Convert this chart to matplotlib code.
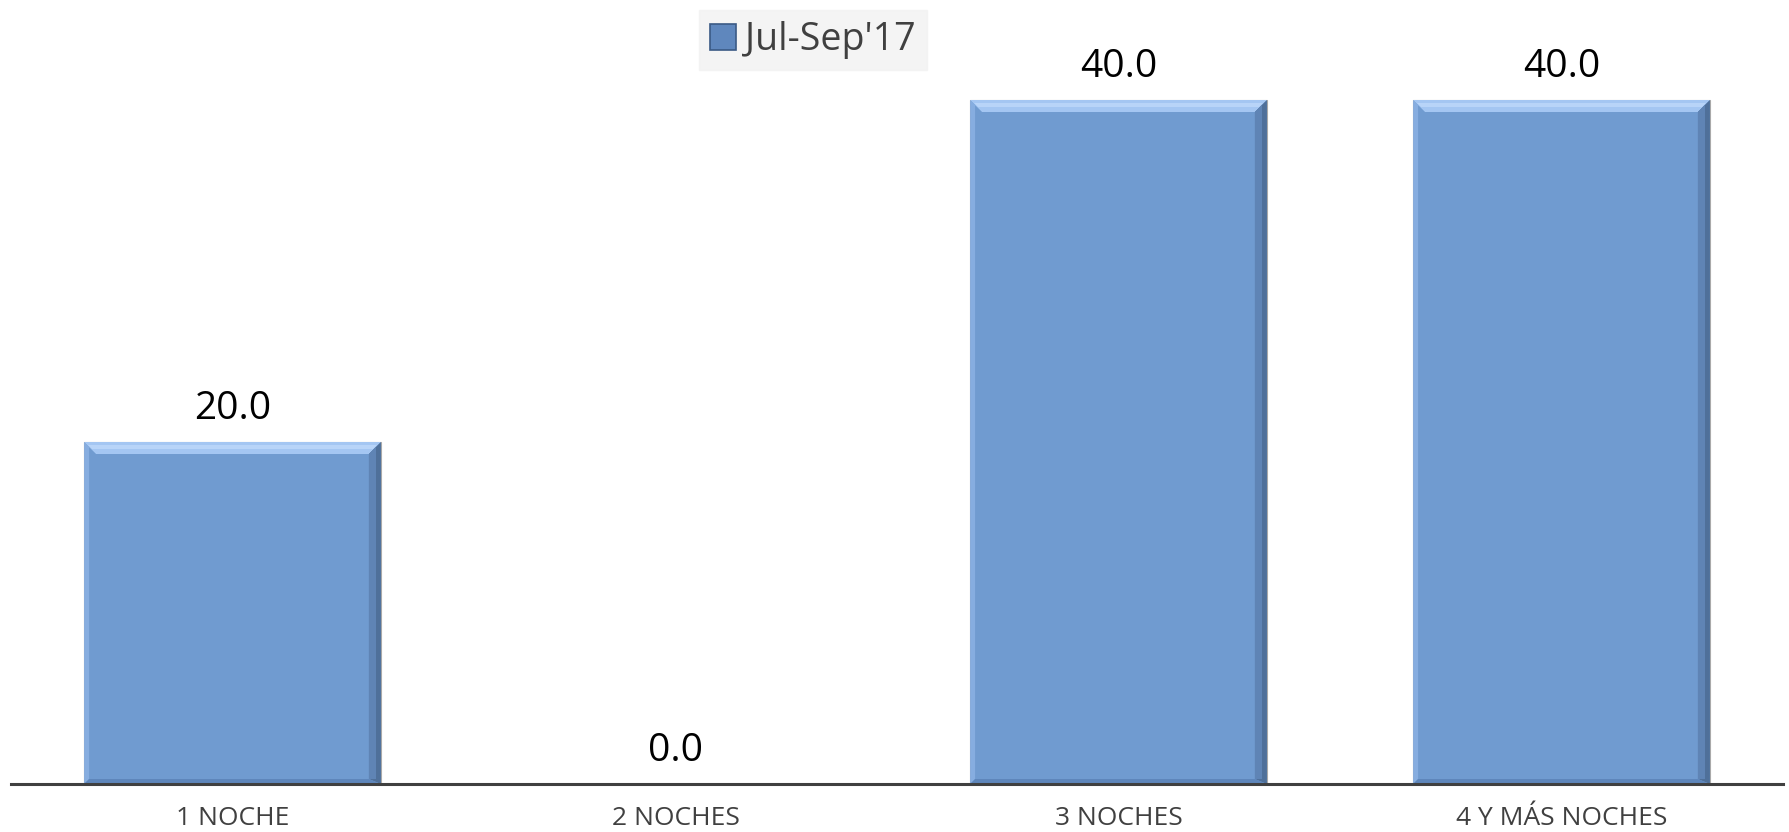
import matplotlib.pyplot as plt
from matplotlib.patches import Polygon, Patch

# ======================
# Data
# ======================
categories = ["1 NOCHE", "2 NOCHES", "3 NOCHES", "4 Y MÁS NOCHES"]
values = [20.0, 0.0, 40.0, 40.0]
series_name = "Jul-Sep'17"

plt.rcParams["font.family"] = ["Open Sans", "DejaVu Sans"]

# ======================
# Figure
# ======================
fig = plt.figure(figsize=(17.89, 8.32), dpi=100)
ax = fig.add_axes([11 / 1789, 48 / 832, 1772 / 1789, 769.5 / 832])

bar_color = "#709bd0"
bars = ax.bar(range(len(categories)), values, width=0.67, color=bar_color,
              edgecolor="#a9a9a9", linewidth=0.8, zorder=2)

ax.set_xlim(-0.5, len(categories) - 0.5)
ax.set_ylim(0, 45)

# bevel look on each bar
px_x = 0.67 / 297
px_y = 40 / 684
for b in bars:
    h = b.get_height()
    if h <= 0:
        continue
    x0, x1 = b.get_x(), b.get_x() + b.get_width()
    tx, ty = 12 * px_x, 12 * px_y
    # top light strip
    ax.add_patch(Polygon([(x0, h), (x1, h), (x1 - tx, h - ty), (x0 + tx, h - ty)],
                         closed=True, color="#a4c6f2", lw=0, zorder=3))
    ax.add_patch(Polygon([(x0 + 4 * px_x, h - 3 * px_y), (x1 - 4 * px_x, h - 3 * px_y),
                          (x1 - 8 * px_x, h - 7 * px_y), (x0 + 8 * px_x, h - 7 * px_y)],
                         closed=True, color="#b8d4f8", lw=0, zorder=3))
    # right dark strip
    ax.add_patch(Polygon([(x1, h), (x1, 0), (x1 - tx, 5 * px_y), (x1 - tx, h - ty)],
                         closed=True, color="#4f709a", lw=0, zorder=3))
    ax.add_patch(Polygon([(x1 - 5 * px_x, h - 5 * px_y), (x1 - 5 * px_x, 5 * px_y),
                          (x1 - tx, 5 * px_y), (x1 - tx, h - ty)],
                         closed=True, color="#5f84b5", lw=0, zorder=3))
    # left light strip
    ax.add_patch(Polygon([(x0, h), (x0, 0), (x0 + 5 * px_x, 5 * px_y), (x0 + 5 * px_x, h - 5 * px_y)],
                         closed=True, color="#86ade0", lw=0, zorder=3))
    # bottom strip
    ax.add_patch(Polygon([(x0, 0), (x1, 0), (x1 - tx, 5 * px_y), (x0 + 5 * px_x, 5 * px_y)],
                         closed=True, color="#5e86bb", lw=0, zorder=3))

# data labels
for i, v in enumerate(values):
    ax.text(i, v + 0.8, f"{v:.1f}", ha="center", va="bottom",
            fontsize=28, color="black")

# axes styling
for s in ["top", "right", "left"]:
    ax.spines[s].set_visible(False)
ax.spines["bottom"].set_color("#404040")
ax.spines["bottom"].set_linewidth(2.2)
ax.spines["bottom"].set_zorder(4)
ax.set_yticks([])
ax.set_xticks(range(len(categories)))
ax.set_xticklabels(categories, fontsize=19, color="#404040")
ax.tick_params(axis="x", length=0, pad=16)

# legend
handle = Patch(facecolor="#5f87bd", edgecolor="#3a5a85", linewidth=1.2)
leg = fig.legend([handle], [series_name], loc="upper center",
                 bbox_to_anchor=(813 / 1789, 1 + 9 / 832), fontsize=27,
                 frameon=True, fancybox=False, handlelength=0.7,
                 handleheight=0.7, handletextpad=0.25, borderpad=0.3,
                 labelcolor="#404040")
leg.get_frame().set_facecolor("#f2f2f2")
leg.get_frame().set_edgecolor("#f2f2f2")

plt.savefig("out.png", dpi=100)
